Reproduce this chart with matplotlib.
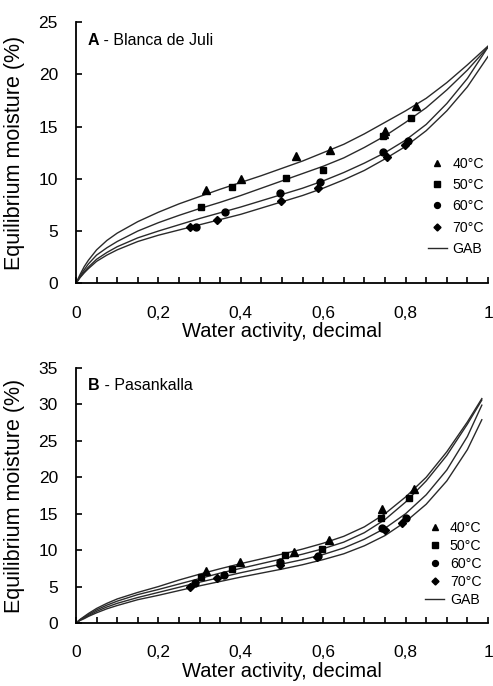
import matplotlib
matplotlib.use("Agg")
import matplotlib.pyplot as plt
from matplotlib.ticker import FixedLocator, MultipleLocator

plt.rcParams['font.family'] = ['Liberation Sans', 'DejaVu Sans']

# ---------------- data ----------------
temps = ['40°C', '50°C', '60°C', '70°C']
markers = ['^', 's', 'o', 'D']
marker_sizes = [5.5, 4.8, 5.0, 4.2]

# Panel A - Blanca de Juli : experimental points
a_aw_40 = [0.316, 0.400, 0.534, 0.617, 0.748, 0.750, 0.825]
a_m_40 = [8.9, 10.0, 12.2, 12.8, 14.3, 14.6, 17.0]
a_aw_50 = [0.304, 0.378, 0.509, 0.599, 0.745, 0.813]
a_m_50 = [7.3, 9.2, 10.1, 10.8, 14.1, 15.8]
a_aw_60 = [0.291, 0.361, 0.495, 0.593, 0.746, 0.807]
a_m_60 = [5.4, 6.8, 8.6, 9.7, 12.6, 13.6]
a_aw_70 = [0.277, 0.343, 0.497, 0.587, 0.754, 0.798]
a_m_70 = [5.4, 6.1, 7.85, 9.1, 12.1, 13.2]

# Panel A GAB curves
a_curve_aw = [0, 0.01, 0.02, 0.03, 0.05, 0.075, 0.1, 0.15, 0.2, 0.25, 0.3, 0.35,
              0.4, 0.45, 0.5, 0.55, 0.6, 0.65, 0.7, 0.75, 0.8, 0.85, 0.9, 0.95, 1.0]
a_gab_40 = [0, 0.85, 1.6, 2.2, 3.2, 4.1, 4.8, 5.9, 6.8, 7.6, 8.3, 9.0,
            9.65, 10.3, 11.0, 11.7, 12.5, 13.3, 14.3, 15.4, 16.5, 17.7, 19.2, 20.9, 22.7]
a_gab_50 = [0, 0.7, 1.3, 1.85, 2.7, 3.4, 4.0, 5.0, 5.8, 6.5, 7.15, 7.75,
            8.4, 9.1, 9.8, 10.5, 11.2, 12.0, 13.0, 14.1, 15.4, 16.8, 18.5, 20.4, 22.6]
a_gab_60 = [0, 0.6, 1.1, 1.55, 2.3, 2.95, 3.5, 4.35, 5.0, 5.6, 6.2, 6.75,
            7.3, 7.9, 8.5, 9.1, 9.8, 10.6, 11.5, 12.5, 13.7, 15.2, 17.2, 19.6, 22.6]
a_gab_70 = [0, 0.55, 1.0, 1.4, 2.1, 2.7, 3.2, 4.0, 4.6, 5.1, 5.6, 6.1,
            6.6, 7.2, 7.8, 8.4, 9.1, 9.9, 10.8, 11.9, 13.1, 14.6, 16.5, 18.8, 21.7]

# Panel B - Pasankalla : experimental points
b_aw_40 = [0.315, 0.398, 0.530, 0.613, 0.743, 0.820]
b_m_40 = [7.1, 8.4, 9.8, 11.4, 15.6, 18.4]
b_aw_50 = [0.303, 0.378, 0.507, 0.596, 0.740, 0.809]
b_m_50 = [6.3, 7.4, 9.3, 10.1, 14.4, 17.2]
b_aw_60 = [0.289, 0.359, 0.494, 0.587, 0.743, 0.800]
b_m_60 = [5.5, 6.6, 8.4, 9.2, 13.0, 14.4]
b_aw_70 = [0.277, 0.342, 0.495, 0.584, 0.750, 0.792]
b_m_70 = [5.0, 6.2, 7.95, 9.0, 12.7, 13.7]

# Panel B GAB curves
b_curve_aw = [0, 0.01, 0.02, 0.03, 0.05, 0.075, 0.1, 0.15, 0.2, 0.25, 0.3, 0.35,
              0.4, 0.45, 0.5, 0.55, 0.6, 0.65, 0.7, 0.75, 0.8, 0.85, 0.9, 0.95, 0.985]
b_gab_40 = [0, 0.5, 0.9, 1.3, 2.0, 2.7, 3.3, 4.2, 5.0, 5.9, 6.7, 7.45,
            8.15, 8.8, 9.45, 10.15, 10.95, 11.9, 13.2, 15.0, 17.3, 20.0, 23.5, 27.6, 30.8]
b_gab_50 = [0, 0.45, 0.8, 1.15, 1.8, 2.45, 3.0, 3.9, 4.6, 5.35, 6.1, 6.85,
            7.5, 8.15, 8.8, 9.45, 10.2, 11.1, 12.4, 14.2, 16.6, 19.5, 23.0, 27.3, 30.6]
b_gab_60 = [0, 0.4, 0.7, 1.0, 1.6, 2.2, 2.7, 3.5, 4.2, 4.9, 5.6, 6.25,
            6.9, 7.5, 8.1, 8.7, 9.4, 10.3, 11.5, 13.0, 15.0, 17.6, 21.0, 25.6, 29.9]
b_gab_70 = [0, 0.35, 0.6, 0.9, 1.4, 1.95, 2.4, 3.2, 3.8, 4.45, 5.1, 5.7,
            6.3, 6.85, 7.4, 8.0, 8.7, 9.5, 10.6, 12.0, 13.9, 16.3, 19.5, 23.8, 27.9]

x_ticks = [0, 0.2, 0.4, 0.6, 0.8, 1.0]
x_tick_labels = ['0', '0,2', '0,4', '0,6', '0,8', '1']
a_y_ticks = [0, 5, 10, 15, 20, 25]
b_y_ticks = [0, 5, 10, 15, 20, 25, 30, 35]

xlabel = 'Water activity, decimal'
ylabel = 'Equilibrium moisture (%)'
# ---------------------------------------------------------------

W, H = 493, 686
fig = plt.figure(figsize=(W / 100, H / 100), dpi=100)

def frac(l, t, r, b):
    return [l / W, 1 - b / H, (r - l) / W, (b - t) / H]

ax1 = fig.add_axes(frac(76, 22, 488, 283.3))
ax2 = fig.add_axes(frac(76, 368, 488, 623))

curve_color = '#2a2a2a'

def draw(ax, pts, curve_aw, curves, yticks, letter, name, leg_anchor, labelspacing):
    handles = []
    for (aw, m), mk, ms, lab in zip(pts, markers, marker_sizes, temps):
        h, = ax.plot(aw, m, linestyle='none', marker=mk, ms=ms, color='black',
                     label=lab, zorder=3)
        handles.append(h)
    for i, c in enumerate(curves):
        h, = ax.plot(curve_aw, c, color=curve_color, lw=1.0, zorder=2,
                     label='GAB' if i == 0 else None)
        if i == 0:
            handles.append(h)
    ax.set_xlim(0, 1)
    ax.set_ylim(yticks[0], yticks[-1])
    ax.xaxis.set_major_locator(FixedLocator(x_ticks))
    ax.set_xticklabels(x_tick_labels)
    ax.xaxis.set_minor_locator(MultipleLocator(0.05))
    ax.yaxis.set_major_locator(FixedLocator(yticks))
    ax.set_yticklabels([str(v) for v in yticks])
    ax.spines['top'].set_visible(False)
    ax.spines['right'].set_visible(False)
    for s in ('left', 'bottom'):
        ax.spines[s].set_linewidth(1.3)
    ax.tick_params(axis='x', which='both', direction='in', length=4, width=1.2,
                   labelsize=12.5, pad=16)
    ax.tick_params(axis='y', which='major', direction='in', length=4, width=1.2,
                   labelsize=12.5, pad=13)
    ax.set_xlabel(xlabel, fontsize=14.5, labelpad=1)
    ax.set_ylabel(ylabel, fontsize=15.5, labelpad=10)
    t = ax.text(0.029, 0.93, letter, transform=ax.transAxes, fontsize=11.5,
                fontweight='bold', va='center', ha='left')
    ax.annotate(' - ' + name, xy=(1, 0.5), xycoords=t, va='center', ha='left',
                fontsize=11.5)
    ax.legend(handles=handles, loc='upper left', bbox_to_anchor=leg_anchor,
              frameon=False, fontsize=10.2, handlelength=1.35, handletextpad=0.4,
              labelspacing=labelspacing, borderpad=0, borderaxespad=0,
              markerscale=0.85)

draw(ax1,
     [(a_aw_40, a_m_40), (a_aw_50, a_m_50), (a_aw_60, a_m_60), (a_aw_70, a_m_70)],
     a_curve_aw, [a_gab_40, a_gab_50, a_gab_60, a_gab_70], a_y_ticks,
     'A', 'Blanca de Juli', (0.854, 0.485), 0.52)
draw(ax2,
     [(b_aw_40, b_m_40), (b_aw_50, b_m_50), (b_aw_60, b_m_60), (b_aw_70, b_m_70)],
     b_curve_aw, [b_gab_40, b_gab_50, b_gab_60, b_gab_70], b_y_ticks,
     'B', 'Pasankalla', (0.847, 0.40), 0.28)

fig.savefig('out.png', dpi=100)
